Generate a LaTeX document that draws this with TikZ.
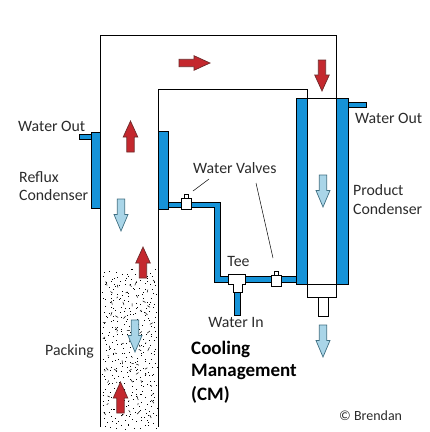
\documentclass[tikz,border=0pt]{standalone}
\usepackage{fontspec}
\setmainfont{Carlito}
\definecolor{ink}{HTML}{2B2B2B}
\definecolor{water}{HTML}{1693D8}
\definecolor{hot}{HTML}{C4282E}
\definecolor{hotedge}{HTML}{6E2A2A}
\definecolor{cold}{HTML}{A9D5E8}
\definecolor{coldedge}{HTML}{3F6F82}
\tikzset{
  wall/.style={black,line width=1pt},
  jacket/.style={fill=water,draw=black,line width=.7pt},
  fitting/.style={fill=white,draw=black,line width=.6pt},
  hotarrow/.style={fill=hot,draw=hotedge,line width=.7pt},
  coldarrow/.style={fill=cold,draw=coldedge,line width=.7pt},
  lbl/.style={font=\fontsize{15.8}{17}\selectfont,text=ink,inner sep=0pt},
  boldlbl/.style={font=\fontsize{19}{21}\selectfont\bfseries,text=black,inner sep=0pt},
}
\begin{document}
\begin{tikzpicture}[x=1pt,y=-1pt]
\useasboundingbox (0,0) rectangle (430,432);
% packing
\pgfmathsetseed{417}
\foreach \i in {0,...,10}{
  \foreach \j in {0,...,31}{
    \pgfmathsetmacro{\px}{102+\i*5+rnd*5}
    \pgfmathsetmacro{\py}{269+\j*5+rnd*5}
    \fill[black] (\px,\py) rectangle ++(.9,.9);
  }
}
\foreach \i in {0,...,4}{
  \foreach \j in {0,...,13}{
    \pgfmathsetmacro{\px}{105+\i*10+rnd*8}
    \pgfmathsetmacro{\py}{280+\j*10+rnd*8}
    \pgfmathsetmacro{\dx}{-3+rnd*6}
    \pgfmathsetmacro{\dy}{-4+rnd*8}
    \draw[black,line width=.5pt] (\px,\py) -- ++(\dx,\dy);
  }
}
% column and vapour line
\draw[wall] (100.5,427) -- (100.5,35.5) -- (336.5,35.5) -- (336.5,98.5);
\draw[wall] (158.5,427) -- (158.5,89.5) -- (307.5,89.5) -- (307.5,98.5);
\draw[wall] (296,98.5) -- (348,98.5);
% cooling water pipes
\draw[jacket] (168,202) -- (220.5,202) -- (220.5,276.5) -- (296,276.5) -- (296,282) -- (214.5,282) -- (214.5,207) -- (168,207) -- cycle;
\draw[jacket] (234,290) rectangle (240,315);
\draw[jacket] (79,134.5) rectangle (92,139);
\draw[jacket] (347,102) rectangle (366,107);
% condensers
\draw[jacket] (91.5,132) rectangle (100.5,208);
\draw[jacket] (158.5,131) rectangle (168.5,209);
\draw[jacket] (296,98.5) rectangle (307.5,284);
\draw[jacket] (336.5,98.5) rectangle (348,284);
% product outlet
\draw[fitting] (307.5,284) rectangle (336.5,297);
\draw[fitting] (318.5,297) rectangle (328,316);
% valves and tee
\foreach \x/\y in {181/198,271/275}{
  \draw[fitting] (\x+3,\y-4) rectangle (\x+7,\y);
  \draw[fitting] (\x,\y) rectangle (\x+10,\y+11.5);
}
\draw[fitting] (228,274) -- (245,274) -- (245,284) -- (242,284) -- (242,292) -- (233,292) -- (233,284) -- (228,284) -- cycle;
% flow arrows
\foreach \x/\y/\a in {179/63/0,130.5/152/90,322/60/-90,143/278/90,120.5/413/90}{
  \draw[hotarrow,shift={(\x,\y)},rotate=\a] (0,-3.7) -- (15,-3.7) -- (15,-7.3) -- (31,0) -- (15,7.3) -- (15,3.7) -- (0,3.7) -- cycle;
}
\foreach \x/\y/\a in {121/199/-90,323/175/-90,135/320/-90,323/325/-90}{
  \draw[coldarrow,shift={(\x,\y)},rotate=\a] (0,-3.7) -- (15.5,-3.7) -- (15.5,-7) -- (32,0) -- (15.5,7) -- (15.5,3.7) -- (0,3.7) -- cycle;
}
% labels
\node[lbl,anchor=west] (outleft) at (18,126) {Water Out};
\node[lbl,anchor=west] (reflux) at (19,177) {Reflux};
\node[lbl,anchor=west] (refluxb) at (19,195.5) {Condenser};
\node[lbl,anchor=west] (outright) at (355,118) {Water Out};
\node[lbl,anchor=west] (valves) at (193,168) {Water Valves};
\node[lbl,anchor=west] (product) at (353,190) {Product};
\node[lbl,anchor=west] (productb) at (353,209) {Condenser};
\node[lbl,anchor=center] (tee) at (238.5,261) {Tee};
\node[lbl,anchor=center] (waterin) at (236,322.5) {Water In};
\node[lbl,anchor=west] (packing) at (45,351) {Packing};
\node[boldlbl,anchor=west] (cooling) at (191,349) {Cooling};
\node[boldlbl,anchor=west] (mgmt) at (191,372) {Management};
\node[boldlbl,anchor=west] (cm) at (191,395) {(CM)};
\node[lbl,anchor=west,font=\fontsize{14}{15}\selectfont] (brendan) at (339,416) {© Brendan};
% leaders
\coordinate (valveA) at (193,191);
\coordinate (valveB) at (273,258);
\draw[black,line width=.5pt] (valveA) -- (209,179);
\draw[black,line width=.5pt] (256,183) -- (valveB);
\end{tikzpicture}
\end{document}
